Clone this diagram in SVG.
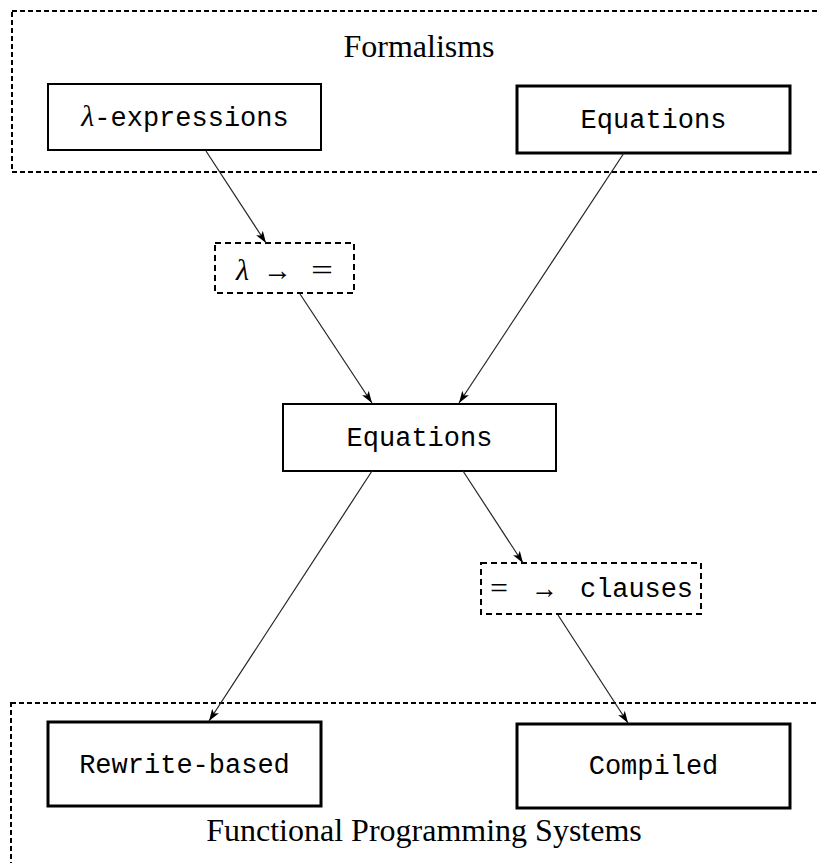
<svg xmlns="http://www.w3.org/2000/svg" width="817" height="863" viewBox="0 0 817 863">
<style>
.box{fill:#fff;stroke:#000;stroke-width:2}
.thick{stroke-width:3}
.dash{fill:none;stroke:#000;stroke-width:2;stroke-dasharray:6 4}
.frame{fill:none;stroke:#000;stroke-width:2;stroke-dasharray:5 3}
.tt{font-family:"Liberation Mono","DejaVu Sans Mono",monospace;font-size:27px;fill:#000}
.rm{font-family:"Liberation Serif","DejaVu Serif",serif;font-size:32px;fill:#000}
.mi{font-family:"Liberation Serif","DejaVu Serif",serif;font-style:italic;font-size:30px;fill:#000}
.sym{font-family:"Liberation Serif","DejaVu Serif",serif;font-size:30px;fill:#000}
.conn{fill:none;stroke:#222;stroke-width:1.2}
</style>
<defs>
<marker id="arr" viewBox="0 0 12 8" refX="12" refY="4" markerWidth="12" markerHeight="8" markerUnits="userSpaceOnUse" orient="auto">
<path d="M0,0 L12,4 L0,8 L3,4 Z" fill="#000"/>
</marker>
</defs>
<g id="formalisms">
<rect class="frame" x="12" y="11" width="830" height="161"/>
<text class="rm" x="419" y="57" text-anchor="middle">Formalisms</text>
</g>
<g id="fps">
<rect class="frame" x="11" y="703" width="830" height="200"/>
<text class="rm" x="424" y="841" text-anchor="middle">Functional Programming Systems</text>
</g>
<g id="lambda-expr">
<rect class="box" x="48" y="84" width="273" height="66"/>
<text x="185" y="126" text-anchor="middle"><tspan class="mi">λ</tspan><tspan class="tt">-expressions</tspan></text>
</g>
<g id="eq-top">
<rect class="box thick" x="517" y="86" width="273" height="67"/>
<text class="tt" x="653.5" y="128" text-anchor="middle">Equations</text>
</g>
<g id="lambda-to-eq">
<rect class="dash" x="215" y="243" width="139" height="50"/>
<text class="mi" x="236" y="280">λ</text>
<text class="sym" x="263" y="280" textLength="29" lengthAdjust="spacingAndGlyphs">→</text>
<text class="sym" x="311" y="280" textLength="22" lengthAdjust="spacingAndGlyphs">=</text>
</g>
<g id="eq-mid">
<rect class="box" x="283" y="404" width="273" height="67"/>
<text class="tt" x="419.5" y="446" text-anchor="middle">Equations</text>
</g>
<g id="eq-to-clauses">
<rect class="dash" x="481" y="563" width="220" height="51"/>
<text class="sym" x="490" y="598" textLength="18" lengthAdjust="spacingAndGlyphs">=</text>
<text class="sym" x="531" y="598" textLength="27" lengthAdjust="spacingAndGlyphs">→</text>
<text class="tt" x="580" y="597" textLength="113">clauses</text>
</g>
<g id="rewrite">
<rect class="box thick" x="48" y="722" width="273" height="84"/>
<text class="tt" x="184.5" y="773" text-anchor="middle">Rewrite-based</text>
</g>
<g id="compiled">
<rect class="box thick" x="517" y="724" width="273" height="84"/>
<text class="tt" x="653.5" y="774" text-anchor="middle">Compiled</text>
</g>
<g id="connectors">
<line class="conn" x1="206" y1="151" x2="266" y2="243" marker-end="url(#arr)"/>
<line class="conn" x1="300" y1="294" x2="372" y2="403" marker-end="url(#arr)"/>
<line class="conn" x1="624" y1="153" x2="459" y2="403" marker-end="url(#arr)"/>
<line class="conn" x1="372" y1="471" x2="209" y2="721" marker-end="url(#arr)"/>
<line class="conn" x1="463" y1="471" x2="523" y2="563" marker-end="url(#arr)"/>
<line class="conn" x1="558" y1="615" x2="628" y2="723" marker-end="url(#arr)"/>
</g>
</svg>
